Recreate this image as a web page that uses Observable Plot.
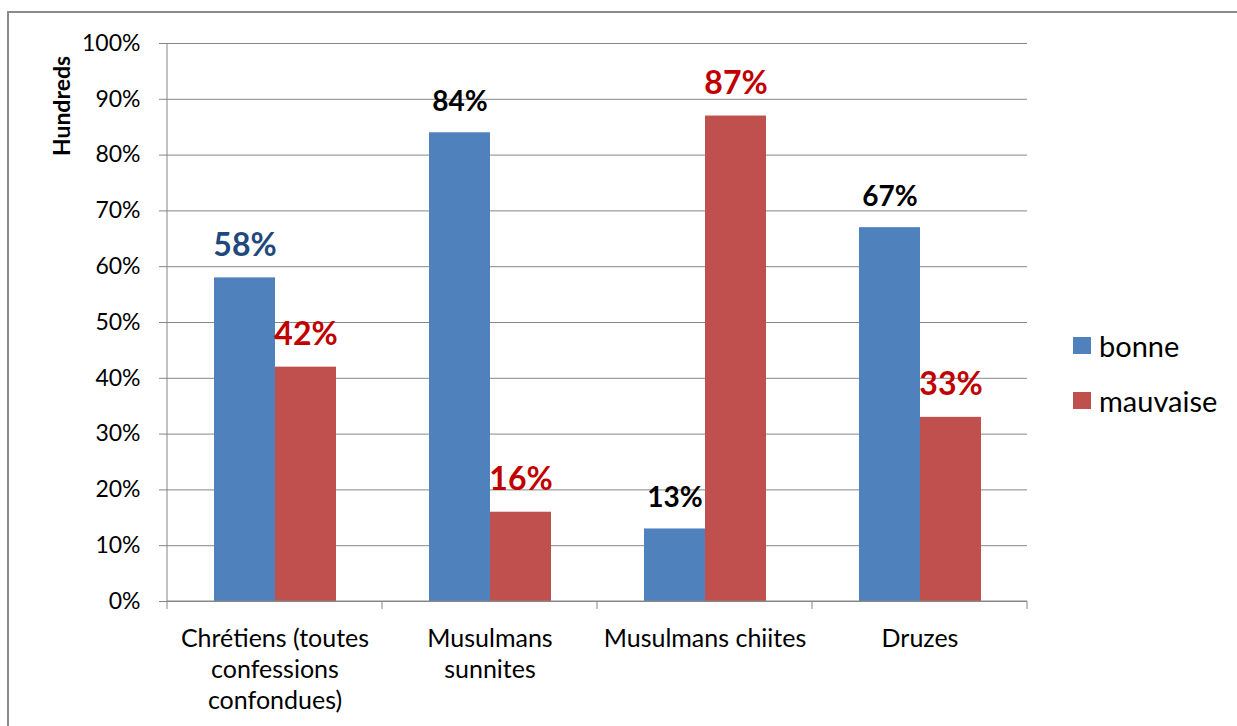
<!DOCTYPE html>
<html>
<head>
<meta charset="utf-8">
<script src="https://cdn.jsdelivr.net/npm/d3@7"></script>
<script src="https://cdn.jsdelivr.net/npm/@observablehq/plot@0.6"></script>
<style>
  html, body { margin: 0; padding: 0; background: #fff; overflow: hidden; }
  #wrap { position: relative; width: 1237px; height: 726px; font-family: Lato, "Open Sans", sans-serif; }
  #border { position: absolute; left: 7px; top: 11px; width: 1400px; height: 900px; border: 2px solid #8a8a8a; }
  #chart { position: absolute; left: 0; top: 0; }
  #ytitle { position: absolute; left: 61px; top: 106px; transform: translate(-50%, -50%) rotate(-90deg); font-weight: bold; font-size: 23px; white-space: nowrap; color: #000; }
  #legend { position: absolute; left: 1073px; top: 318px; font-size: 29px; color: #000; }
  .li { display: flex; align-items: center; height: 55px; }
  .sw { width: 18px; height: 17px; margin-right: 8px; }
</style>
</head>
<body>
<div id="wrap">
  <div id="border"></div>
  <div id="chart"></div>
  <div id="ytitle">Hundreds</div>
  <div id="legend"></div>
</div>
<script>
const categories = ["Chrétiens (toutes confessions confondues)", "Musulmans sunnites", "Musulmans chiites", "Druzes"];
const categoryLabels = ["Chrétiens (toutes\nconfessions\nconfondues)", "Musulmans\nsunnites", "Musulmans chiites", "Druzes"];
const series = ["bonne", "mauvaise"];
const bonne = [0.58, 0.84, 0.13, 0.67];
const mauvaise = [0.42, 0.16, 0.87, 0.33];
const yTicks = [0, 0.1, 0.2, 0.3, 0.4, 0.5, 0.6, 0.7, 0.8, 0.9, 1.0];

const seriesColors = ["#4F81BD", "#C0504D"];
const gray = "#868686";
const pct = d3.format(".0%");

const data = categories.flatMap((c, i) => [
  {category: c, series: "bonne", value: bonne[i], idx: i},
  {category: c, series: "mauvaise", value: mauvaise[i], idx: i}
]);

const chart = Plot.plot({
  width: 1237,
  height: 726,
  marginLeft: 166,
  marginRight: 209,
  marginTop: 43,
  marginBottom: 125,
  style: {fontFamily: "Lato, 'Open Sans', sans-serif", background: "transparent", color: "#000"},
  fx: {domain: categories, paddingInner: 0, paddingOuter: 0, label: null},
  x: {domain: series, paddingInner: 0, paddingOuter: 0.75, axis: null},
  y: {domain: [0, 1], label: null},
  color: {domain: series, range: seriesColors},
  marks: [
    Plot.gridY(yTicks, {stroke: gray, strokeOpacity: 1}),
    Plot.axisY(yTicks, {tickFormat: pct, tickSize: 8, tickPadding: 19, fontSize: 23, stroke: gray, fill: "#000", label: null}),
    Plot.axisFx({anchor: "bottom", tickSize: 0, tickPadding: 23, fontSize: 25, lineHeight: 1.25, fill: "#000",
      tickFormat: d => categoryLabels[categories.indexOf(d)], label: null}),
    Plot.barY(data, {fx: "category", x: "series", y: "value", fill: "series"}),
    Plot.ruleY([0], {stroke: gray}),
    Plot.text(data.filter(d => d.series === "bonne" && d.idx === 0), {
      fx: "category", x: "series", y: "value", text: d => pct(d.value),
      lineAnchor: "bottom", dy: -22, fontWeight: "bold", fontSize: 32, fill: "#1F497D"}),
    Plot.text(data.filter(d => d.series === "bonne" && d.idx !== 0), {
      fx: "category", x: "series", y: "value", text: d => pct(d.value),
      lineAnchor: "bottom", dy: -22, fontWeight: "bold", fontSize: 28, fill: "#000"}),
    Plot.text(data.filter(d => d.series === "mauvaise"), {
      fx: "category", x: "series", y: "value", text: d => pct(d.value),
      lineAnchor: "bottom", dy: -22, fontWeight: "bold", fontSize: 32, fill: "#C00000"})
  ]
});

document.getElementById("chart").appendChild(chart);

// axis lines and category boundary ticks from the library's scales
const fx = chart.scale("fx");
const y = chart.scale("y");
const svg = d3.select(chart);
const y0 = y.apply(0), y1 = y.apply(1);
const bounds = categories.map(c => fx.apply(c)).concat([fx.apply(categories[categories.length - 1]) + fx.bandwidth]);
const g = svg.append("g").attr("stroke", gray).attr("stroke-width", 1);
g.append("line").attr("x1", bounds[0]).attr("x2", bounds[0]).attr("y1", y1).attr("y2", y0);
g.append("line").attr("x1", bounds[0]).attr("x2", bounds[bounds.length - 1]).attr("y1", y0).attr("y2", y0);
bounds.forEach(b => g.append("line").attr("x1", b).attr("x2", b).attr("y1", y0).attr("y2", y0 + 8));

// legend
const legend = d3.select("#legend");
series.forEach((s, i) => {
  const row = legend.append("div").attr("class", "li");
  row.append("div").attr("class", "sw").style("background", seriesColors[i]);
  row.append("span").text(s);
});
</script>
</body>
</html>
